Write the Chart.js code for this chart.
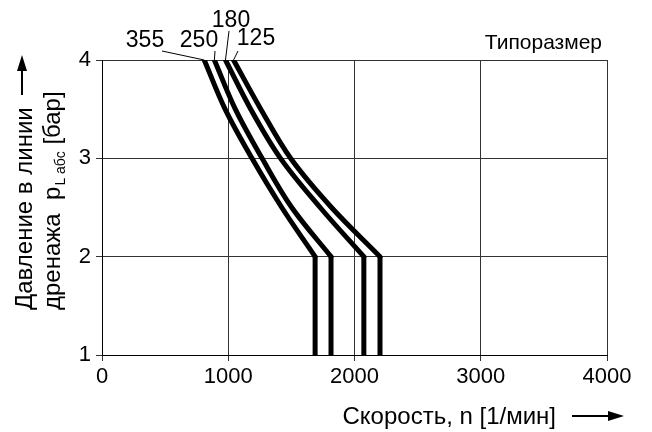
<!DOCTYPE html>
<html>
<head>
<meta charset="utf-8">
<script src="https://cdn.jsdelivr.net/npm/chart.js@4.4.1/dist/chart.umd.min.js"></script>
<style>
  html, body { margin: 0; padding: 0; background: #fff; }
  #wrap { width: 652px; height: 432px; position: relative; }
</style>
</head>
<body>
<div id="wrap"><canvas id="chart"></canvas></div>
<script>
// Типоразмеры (frame sizes), left to right
const sizes = ["355", "250", "180", "125"];

// Давление в линии дренажа, бар: sloped part of each curve
const pressureCurve = [4, 3.5, 3, 2.5, 2];
// vertical part (constant speed) below 2 bar
const pressureFlat = [2, 1];

// Скорость, 1/мин
const speed355 = [810, 975, 1188, 1424, 1688];
const speed250 = [890, 1056, 1268, 1503, 1814];
const speed180 = [978, 1178, 1414, 1728, 2074];
const speed125 = [1042, 1258, 1494, 1818, 2202];

const xTicks = [0, 1000, 2000, 3000, 4000];
const yTicks = [1, 2, 3, 4];

const FONT = "'Liberation Sans', Arial, sans-serif";

const allSpeeds = [speed355, speed250, speed180, speed125];

const datasets = [];
allSpeeds.forEach((arr, i) => {
  // curved part: smooth, clipped exactly at the frame
  datasets.push({
    label: sizes[i],
    data: arr.map((v, j) => ({ x: v, y: pressureCurve[j] })),
    borderColor: "#000",
    borderWidth: 5,
    borderCapStyle: "round",
    borderJoinStyle: "round",
    pointRadius: 0,
    tension: 0.35,
    fill: false,
    clip: 0,
  });
  // straight drop at the last speed
  const last = arr[arr.length - 1];
  datasets.push({
    label: sizes[i] + " flat",
    data: pressureFlat.map((p) => ({ x: last, y: p })),
    borderColor: "#000",
    borderWidth: 5,
    borderCapStyle: "butt",
    pointRadius: 0,
    tension: 0,
    fill: false,
    clip: 0,
  });
});

// label text pos + where the leader starts
const labelPos = [
  { tx: 145, ty: 47, lx: 162, ly: 51 },
  { tx: 199, ty: 47, lx: 215, ly: 51 },
  { tx: 231, ty: 27, lx: 229, ly: 31 },
  { tx: 256, ty: 45, lx: 238, ly: 51 },
];

const annotations = {
  id: "annotations",
  afterDraw(chart) {
    const ctx = chart.ctx;
    const xs = chart.scales.x;
    const area = chart.chartArea;
    ctx.save();
    ctx.fillStyle = "#000";
    ctx.strokeStyle = "#000";

    // size labels with leader lines
    ctx.font = "23px " + FONT;
    ctx.textAlign = "center";
    ctx.textBaseline = "alphabetic";
    ctx.lineWidth = 1;
    sizes.forEach((s, i) => {
      const p = labelPos[i];
      ctx.fillText(s, p.tx, p.ty);
      const topX = xs.getPixelForValue(allSpeeds[i][0]);
      ctx.beginPath();
      ctx.moveTo(p.lx, p.ly);
      ctx.lineTo(topX, area.top);
      ctx.stroke();
    });

    // Типоразмер
    ctx.font = "21px " + FONT;
    ctx.textAlign = "right";
    ctx.fillText("Типоразмер", 602, 49);

    // x axis title + arrow
    ctx.font = "24px " + FONT;
    ctx.fillText("Скорость, n [1/мин]", 556, 424);
    ctx.lineWidth = 2;
    ctx.beginPath();
    ctx.moveTo(572, 416);
    ctx.lineTo(612, 416);
    ctx.stroke();
    ctx.beginPath();
    ctx.moveTo(624, 416);
    ctx.lineTo(608, 411);
    ctx.lineTo(608, 421);
    ctx.closePath();
    ctx.fill();

    // y axis title (rotated, two lines) + arrow
    ctx.save();
    ctx.translate(32, 310);
    ctx.rotate(-Math.PI / 2);
    ctx.textAlign = "left";
    ctx.font = "24px " + FONT;
    ctx.fillText("Давление в линии", 0, 0);
    ctx.restore();

    ctx.save();
    ctx.translate(60, 310);
    ctx.rotate(-Math.PI / 2);
    ctx.textAlign = "left";
    ctx.font = "24px " + FONT;
    let t = "дренажа  p";
    ctx.fillText(t, 0, 0);
    let w = ctx.measureText(t).width;
    ctx.font = "14px " + FONT;
    const sub = "L абс";
    ctx.fillText(sub, w + 1, 5);
    w += ctx.measureText(sub).width + 1;
    ctx.font = "24px " + FONT;
    ctx.fillText(" [бар]", w, 0);
    ctx.restore();

    ctx.lineWidth = 2;
    ctx.beginPath();
    ctx.moveTo(22, 95);
    ctx.lineTo(22, 68);
    ctx.stroke();
    ctx.beginPath();
    ctx.moveTo(22, 55);
    ctx.lineTo(17, 71);
    ctx.lineTo(27, 71);
    ctx.closePath();
    ctx.fill();

    ctx.restore();
  },
};

new Chart(document.getElementById("chart"), {
  type: "line",
  data: { datasets },
  plugins: [annotations],
  options: {
    responsive: true,
    maintainAspectRatio: false,
    animation: false,
    layout: { padding: { left: 0, right: 45, top: 60, bottom: 0 } },
    plugins: { legend: { display: false }, tooltip: { enabled: false } },
    scales: {
      x: {
        type: "linear",
        min: 0,
        max: 4000,
        afterBuildTicks: (s) => { s.ticks = xTicks.map((v) => ({ value: v })); },
        afterFit: (s) => { s.height = 77; },
        grid: { color: "#333", lineWidth: 1, tickLength: 6, drawTicks: true },
        border: { color: "#000", width: 1 },
        ticks: {
          color: "#000",
          font: { family: FONT, size: 22 },
          padding: 3,
          maxRotation: 0,
          callback: (v) => String(v),
        },
      },
      y: {
        type: "linear",
        min: 1,
        max: 4,
        afterBuildTicks: (s) => { s.ticks = yTicks.map((v) => ({ value: v })); },
        afterFit: (s) => { s.width = 102; },
        grid: { color: "#333", lineWidth: 1, tickLength: 6, drawTicks: true },
        border: { color: "#000", width: 1 },
        ticks: {
          color: "#000",
          font: { family: FONT, size: 22 },
          padding: 5,
          callback: (v) => String(v),
        },
      },
    },
  },
});
</script>
</body>
</html>
